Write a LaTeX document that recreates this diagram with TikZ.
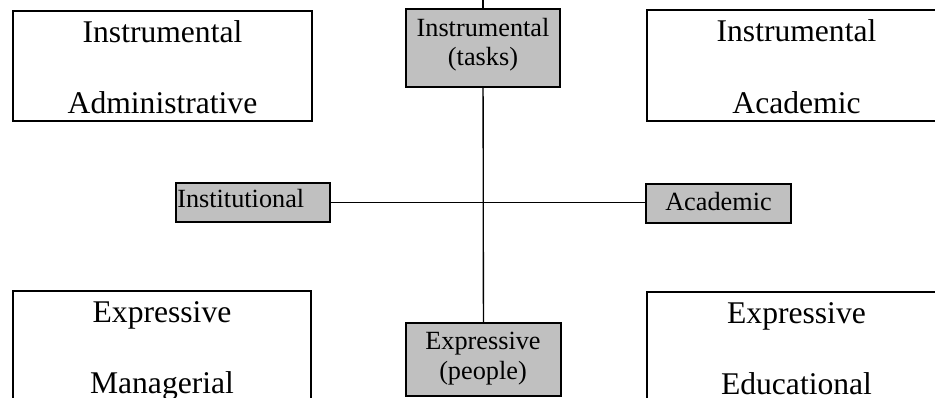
\documentclass[tikz,border=0pt]{standalone}
\usepackage{fontspec}
\setmainfont{Liberation Serif}
\definecolor{boxgray}{RGB}{192,192,192}

\begin{document}
\begin{tikzpicture}[x=0.75pt, y=-0.75pt,
    bigbox/.style={draw, line width=1.3pt, minimum width=224pt, minimum height=83pt, inner sep=0pt},
    axisbox/.style={draw, fill=boxgray, line width=1.3pt, inner sep=0pt},
    bigtext/.style={anchor=base, inner sep=0pt, font=\fontsize{23.7}{28}\selectfont},
    smalltext/.style={anchor=base, inner sep=0pt, font=\fontsize{19.7}{24}\selectfont},
    axis/.style={line width=1pt}]
    \clip (0, 0) rectangle (935, 397);

    \node[bigbox] (admin) at (162.5, 66) {};
    \node[bigbox] (acadbox) at (796.5, 65.5) {};
    \node[bigbox] (manage) at (162, 346.5) {};
    \node[bigbox] (educ) at (796.5, 347.5) {};

    \coordinate (top) at (483, 0);
    \node[axisbox, minimum width=115.5pt, minimum height=58.5pt] (tasks) at (483, 48) {};
    \node[axisbox, minimum width=116.25pt, minimum height=54.75pt] (people) at (483.5, 359.5) {};
    \node[axisbox, minimum width=115.5pt, minimum height=29.25pt] (inst) at (253, 202.5) {};
    \node[axisbox, minimum width=108.75pt, minimum height=29.25pt] (acad) at (718.5, 203.5) {};

    \draw[axis] (top) -- (tasks.north);
    \draw[axis] (tasks) -- (people);
    \draw[axis] (inst.east) -- (inst.east -| acad.west);

    \node[bigtext] (admin1) at (162.5, 42) {Instrumental};
    \node[bigtext] (admin2) at (162.5, 113) {Administrative};
    \node[bigtext] (acadbox1) at (796.5, 41) {Instrumental};
    \node[bigtext] (acadbox2) at (796.5, 113) {Academic};
    \node[bigtext] (manage1) at (162, 322) {Expressive};
    \node[bigtext] (manage2) at (162, 393) {Managerial};
    \node[bigtext] (educ1) at (796.5, 323) {Expressive};
    \node[bigtext] (educ2) at (796.5, 394) {Educational};

    \node[smalltext] (tasks1) at (483, 36) {Instrumental};
    \node[smalltext] (tasks2) at (483, 65) {(tasks)};
    \node[smalltext] (people1) at (483, 349) {Expressive};
    \node[smalltext] (people2) at (483, 379) {(people)};
    \node[smalltext, anchor=base west] (inst1) at (177, 207) {Institutional};
    \node[smalltext] (acad1) at (718.5, 210) {Academic};
\end{tikzpicture}
\end{document}
